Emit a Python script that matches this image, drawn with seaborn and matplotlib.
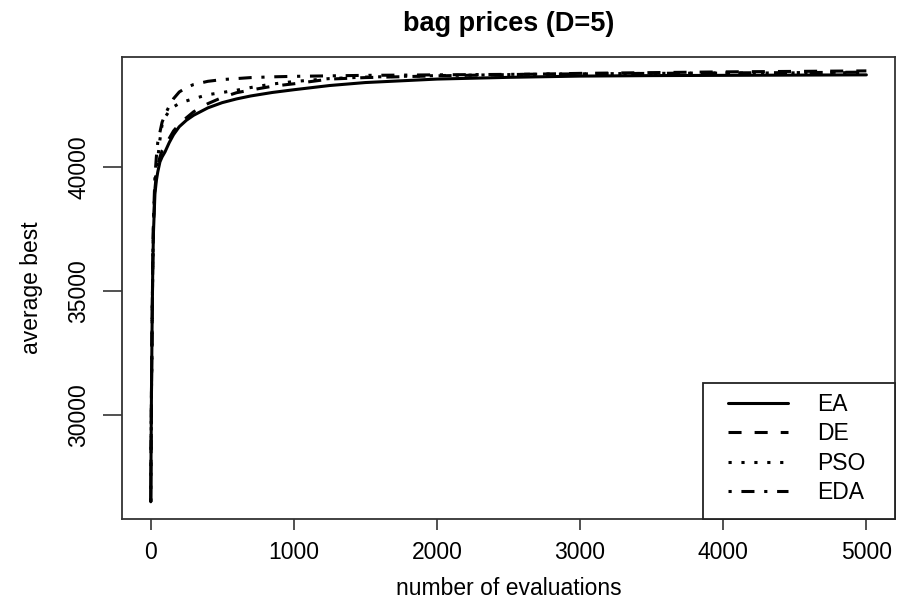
import matplotlib
matplotlib.use("Agg")
import matplotlib.pyplot as plt
from matplotlib.patches import Rectangle
import seaborn as sns
import pandas as pd

# ---- data ----
evals = [1, 3, 6, 10, 15, 20, 30, 40, 50, 65, 80, 100, 130, 160, 200, 250, 300,
         400, 500, 600, 700, 850, 1000, 1250, 1500, 2000, 2500, 3000, 3500,
         4000, 4500, 5000]

ea = [26500, 28500, 31000, 33500, 36000, 37400, 38900, 39450, 39800, 40200,
      40400, 40600, 40980, 41300, 41620, 41880, 42080, 42380, 42590, 42740,
      42860, 43000, 43110, 43280, 43400, 43540, 43610, 43660, 43680, 43690,
      43700, 43710]

de = [26500, 28500, 31000, 33500, 36100, 37600, 39100, 39700, 40050, 40400,
      40650, 40850, 41150, 41450, 41720, 41980, 42220, 42550, 42800, 42990,
      43100, 43250, 43350, 43540, 43600, 43670, 43720, 43770, 43800, 43830,
      43850, 43870]

pso = [26500, 28500, 31000, 33500, 36100, 37700, 39300, 39900, 40350, 41100,
       41700, 42000, 42250, 42420, 42560, 42660, 42750, 42910, 43000, 43090,
       43200, 43340, 43440, 43560, 43620, 43680, 43720, 43750, 43770, 43780,
       43790, 43800]

eda = [26500, 28500, 31000, 33500, 36200, 37900, 39600, 40400, 41000, 41400,
       41800, 42100, 42450, 42750, 43020, 43200, 43320, 43450, 43520, 43560,
       43600, 43630, 43650, 43670, 43690, 43710, 43730, 43750, 43770, 43790,
       43800, 43820]

algorithms = ["EA", "DE", "PSO", "EDA"]
x_ticks = [0, 1000, 2000, 3000, 4000, 5000]
y_ticks = [30000, 35000, 40000]

# ---- style ----
sns.set_theme(style="white")
plt.rcParams["font.family"] = ["Liberation Sans", "DejaVu Sans"]
plt.rcParams["lines.scale_dashes"] = False
plt.rcParams["text.color"] = "black"
plt.rcParams["axes.labelcolor"] = "black"
plt.rcParams["xtick.color"] = "black"
plt.rcParams["ytick.color"] = "black"

FS = 16.5
series = {"EA": ea, "DE": de, "PSO": pso, "EDA": eda}
styles = {
    "EA": "-",
    "DE": (0, (9.4, 9.4)),
    "PSO": (0, (2.3, 7.0)),
    "EDA": (0, (2.3, 7.0, 9.4, 7.0)),
}

fig = plt.figure(figsize=(9.1, 6.0), dpi=100)
ax = fig.add_axes([122 / 910, 1 - 519 / 600, (895 - 122) / 910, 462 / 600])

for name in algorithms:
    df = pd.DataFrame({"evals": evals, "best": series[name]})
    sns.lineplot(data=df, x="evals", y="best", ax=ax, color="black",
                 linewidth=2.2, linestyle=styles[name], label=name)

ax.set_xlim(-200, 5200)
ax.set_ylim(25805, 44430)
ax.set_xticks(x_ticks)
ax.set_xticklabels([str(v) for v in x_ticks])
ax.set_yticks(y_ticks)
ax.set_yticklabels([str(v) for v in y_ticks], rotation=90, va="center")

for sp in ax.spines.values():
    sp.set_visible(True)
    sp.set_color("#333333")
    sp.set_linewidth(1.3)

ax.tick_params(axis="x", direction="out", length=8, width=1.2, color="#333333",
               labelsize=FS, labelcolor="black", pad=7.5, bottom=True)
ax.tick_params(axis="y", direction="out", length=14, width=1.2, color="#333333",
               labelsize=FS, labelcolor="black", pad=9, left=True)

ax.set_xlabel("number of evaluations", fontsize=FS, labelpad=10, color="black")
ax.set_ylabel("average best", fontsize=FS, labelpad=17, color="black")
ax.set_title("bag prices (D=5)", fontsize=19.5, fontweight="bold", pad=19,
             color="black")

# legend frame (axes coordinates), then frameless legend inside it
frame = Rectangle((0.7512, 0.0), 0.2488, 0.295, transform=ax.transAxes,
                  facecolor="white", edgecolor="#222222", linewidth=1.3,
                  zorder=4.5, clip_on=False)
ax.add_patch(frame)

handles, labels = ax.get_legend_handles_labels()
leg = ax.legend(handles, labels, loc="upper left",
                bbox_to_anchor=(0.784, 0.2727), borderaxespad=0, borderpad=0,
                fontsize=FS, frameon=False, handlelength=2.6,
                handletextpad=1.3, labelspacing=0.28)
leg.set_zorder(5)
for h in leg.get_lines():
    h.set_linewidth(2.2)
    h.set_color("black")
for t in leg.get_texts():
    t.set_color("black")

fig.savefig("out.png", dpi=100, facecolor="white")
